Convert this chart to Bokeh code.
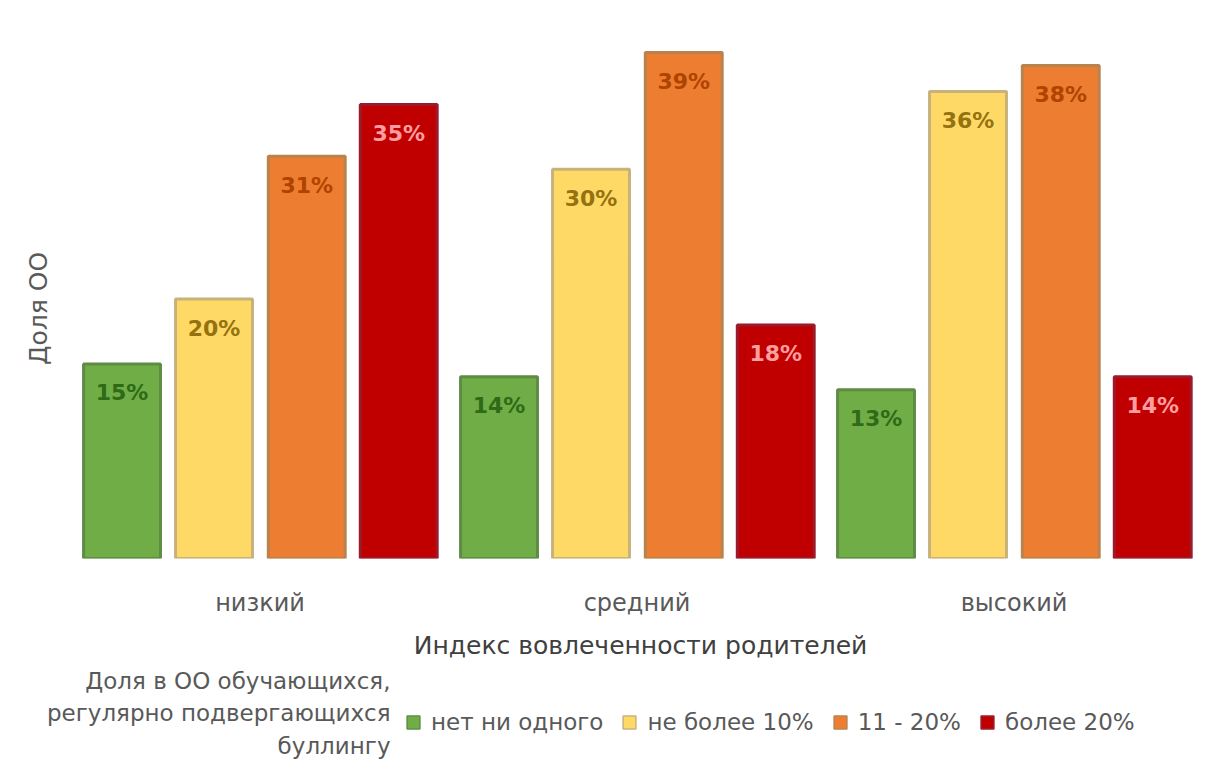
import math
from bokeh.plotting import figure
from bokeh.layouts import column
from bokeh.models import (ColumnDataSource, Range1d, Legend, LegendItem, Label, FixedTicker)
from bokeh.transform import dodge
from bokeh.core.properties import value
from bokeh.embed import file_html
from bokeh.resources import INLINE

# ---- data ----
groups = ["низкий", "средний", "высокий"]
series_names = ["нет ни одного", "не более 10%", "11 - 20%", "более 20%"]
s_none = [15, 14, 13]
s_le10 = [20, 30, 36]
s_11_20 = [31, 39, 38]
s_gt20 = [35, 18, 14]
x_title = "Индекс вовлеченности родителей"
y_title = "Доля ОО"
legend_title = ["Доля в ОО обучающихся,", "регулярно подвергающихся", "буллингу"]

# ---- styles ----
fills = ["#70AD47", "#FFD966", "#ED7D31", "#C00000"]
borders = ["#5E8C45", "#C8B27C", "#B8834E", "#9A1B2C"]
label_colors = ["#2F6A16", "#94720F", "#B04300", "#FF9E9E"]
offsets = [-0.366, -0.122, 0.124, 0.368]
FONT = "DejaVu Sans"
GRAY = "#595959"

W = 1206
group_px = 377.0           # width of one category slot in pixels
left_px = 71.0             # room at the left for the y title
x_start = -0.5 - left_px / group_px
x_end = x_start + W / group_px
gx = list(range(len(groups)))

p = figure(width=W, height=625, x_range=Range1d(x_start, x_end), y_range=Range1d(0, 40),
           output_backend="svg", toolbar_location=None,
           min_border_left=0, min_border_right=0, min_border_top=39, min_border_bottom=67)
p.outline_line_color = None
p.xgrid.visible = False
p.ygrid.visible = False
p.yaxis.visible = False
p.background_fill_color = "white"
p.border_fill_color = "white"

all_series = [s_none, s_le10, s_11_20, s_gt20]
for i, vals in enumerate(all_series):
    src = ColumnDataSource(dict(x=gx, top=vals, lab=[f"{v}%" for v in vals]))
    p.vbar(x=dodge("x", offsets[i]), top="top", bottom=0, width=0.204,
           source=src, fill_color=fills[i], line_color=borders[i], line_width=3)
    p.text(x=dodge("x", offsets[i]), y="top", text="lab", source=src,
           text_align="center", text_baseline="middle", y_offset=29,
           text_font=value(FONT), text_font_style="bold", text_font_size="22px",
           text_color=label_colors[i])

# x axis: category names at group centres
xa = p.xaxis[0]
xa.ticker = FixedTicker(ticks=gx)
xa.major_label_overrides = {k: g for k, g in zip(gx, groups)}
xa.axis_line_color = None
xa.major_tick_line_color = None
xa.minor_tick_line_color = None
xa.major_tick_out = 0
xa.major_label_standoff = 30
xa.major_label_text_font = FONT
xa.major_label_text_font_size = "24px"
xa.major_label_text_color = GRAY

# y title (rotated)
p.add_layout(Label(x=38, y=250, x_units="screen", y_units="screen", text=y_title,
                   angle=math.pi / 2, text_align="center", text_baseline="middle",
                   text_font=FONT, text_font_size="25px", text_color=GRAY))

# ---- strip below the chart: x title + legend ----
lg = figure(width=W, height=137, x_range=Range1d(0, 1), y_range=Range1d(0, 1),
            output_backend="svg", toolbar_location=None,
            min_border_left=0, min_border_right=0, min_border_top=0, min_border_bottom=0)
lg.axis.visible = False
lg.grid.visible = False
lg.outline_line_color = None
lg.background_fill_color = "white"
lg.border_fill_color = "white"

lg.add_layout(Label(x=640, y=117, x_units="screen", y_units="screen", text=x_title,
                    text_align="center", text_baseline="middle", text_font=FONT,
                    text_font_size="25px", text_color="#404040"))

items = []
for i, name in enumerate(series_names):
    # swatch source for the legend; the renderer itself is hidden
    proxy = lg.vbar(x=[0.5], top=[0.5], bottom=[0.4], width=0.01, fill_color=fills[i],
                    line_color=borders[i], line_width=1.5)
    proxy.visible = False
    items.append(LegendItem(label=name, renderers=[proxy]))

legend = Legend(items=items, orientation="horizontal", location=(405, 27),
                label_text_font=FONT, label_text_font_size="23px", label_text_color=GRAY,
                glyph_width=16, glyph_height=16, label_standoff=10, spacing=18,
                padding=0, margin=0, border_line_color=None, background_fill_alpha=0,
                inactive_fill_alpha=0)
lg.add_layout(legend, "center")

for t, yy in zip(legend_title, [82, 50, 17]):
    lg.add_layout(Label(x=390, y=yy, x_units="screen", y_units="screen", text=t,
                        text_align="right", text_baseline="middle", text_font=FONT,
                        text_font_size="23px", text_color=GRAY))

layout = column(p, lg, spacing=0)
open("out.html", "w").write(file_html(layout, INLINE))
